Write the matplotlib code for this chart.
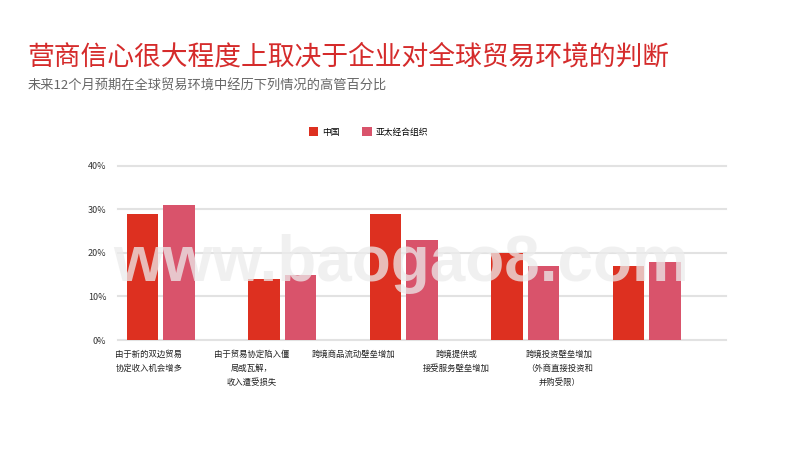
import matplotlib
matplotlib.use("Agg")
import matplotlib.pyplot as plt
import numpy as np

plt.rcParams['font.family'] = ['Noto Sans CJK SC', 'DejaVu Sans']

categories = ["由于新的双边贸易\n协定收入机会增多",
              "由于贸易协定陷入僵\n局或瓦解，\n收入遭受损失",
              "跨境商品流动壁垒增加",
              "跨境提供或\n接受服务壁垒增加",
              "跨境投资壁垒增加\n（外商直接投资和\n并购受限）"]
china = [29, 14, 29, 20, 17]
apec = [31, 15, 23, 17, 18]
series_names = ["中国", "亚太经合组织"]
yticks = [0, 10, 20, 30, 40]

c_china = '#dd3020'
c_apec = '#d9536b'

fig = plt.figure(figsize=(8, 4.5), dpi=100)
ax = fig.add_axes([0.147, 0.2444, 0.7604, 0.3922])

x = np.arange(len(categories))
w = 0.26
b1 = ax.bar(x - 0.151, china, width=w, color=c_china, label=series_names[0], zorder=2)
b2 = ax.bar(x + 0.151, apec, width=w, color=c_apec, label=series_names[1], zorder=2)

ax.set_xlim(-0.356, 4.652)
ax.set_ylim(0, 40.5)
ax.set_yticks(yticks)
ax.set_yticklabels(["%d%%" % v for v in yticks], fontsize=6.5, color='#333333')
ax.tick_params(axis='y', length=0, pad=8)
ax.set_xticks([])
for s in ax.spines.values():
    s.set_visible(False)
for v in yticks:
    ax.axhline(v, color='#e2e2e2', lw=1.5, zorder=1, clip_on=False)

# category labels sit a bit left of the bar groups, like in the slide
label_pos = x * 0.845 - 0.1
for px, lab in zip(label_pos, categories):
    ax.text(px, -0.055, lab, transform=ax.get_xaxis_transform(), ha='center', va='top',
            fontsize=6, color='#222222', linespacing=1.75, multialignment='center')

ax.legend(handles=[b1, b2], loc='center left', bbox_to_anchor=(0.376, 1 - 132 / 450),
          bbox_transform=fig.transFigure, ncol=2, frameon=False, fontsize=6.3,
          handlelength=1.1, handleheight=1.1, handletextpad=0.4, columnspacing=2.6)

fig.text(27 / 800, 1 - 57 / 450, "营商信心很大程度上取决于企业对全球贸易环境的判断",
         fontsize=19.3, color='#d52b2b', va='center', ha='left')
fig.text(28 / 800, 1 - 86 / 450, "未来12个月预期在全球贸易环境中经历下列情况的高管百分比",
         fontsize=9.5, color='#666666', va='center', ha='left')

# watermark
fig.text(401 / 800, 1 - 264 / 450, "www.baogao8.com", fontsize=46, fontweight='bold',
         family='Liberation Sans', color='#ececec', alpha=0.75, ha='center', va='center', zorder=10)

fig.savefig("out.png", dpi=100)
